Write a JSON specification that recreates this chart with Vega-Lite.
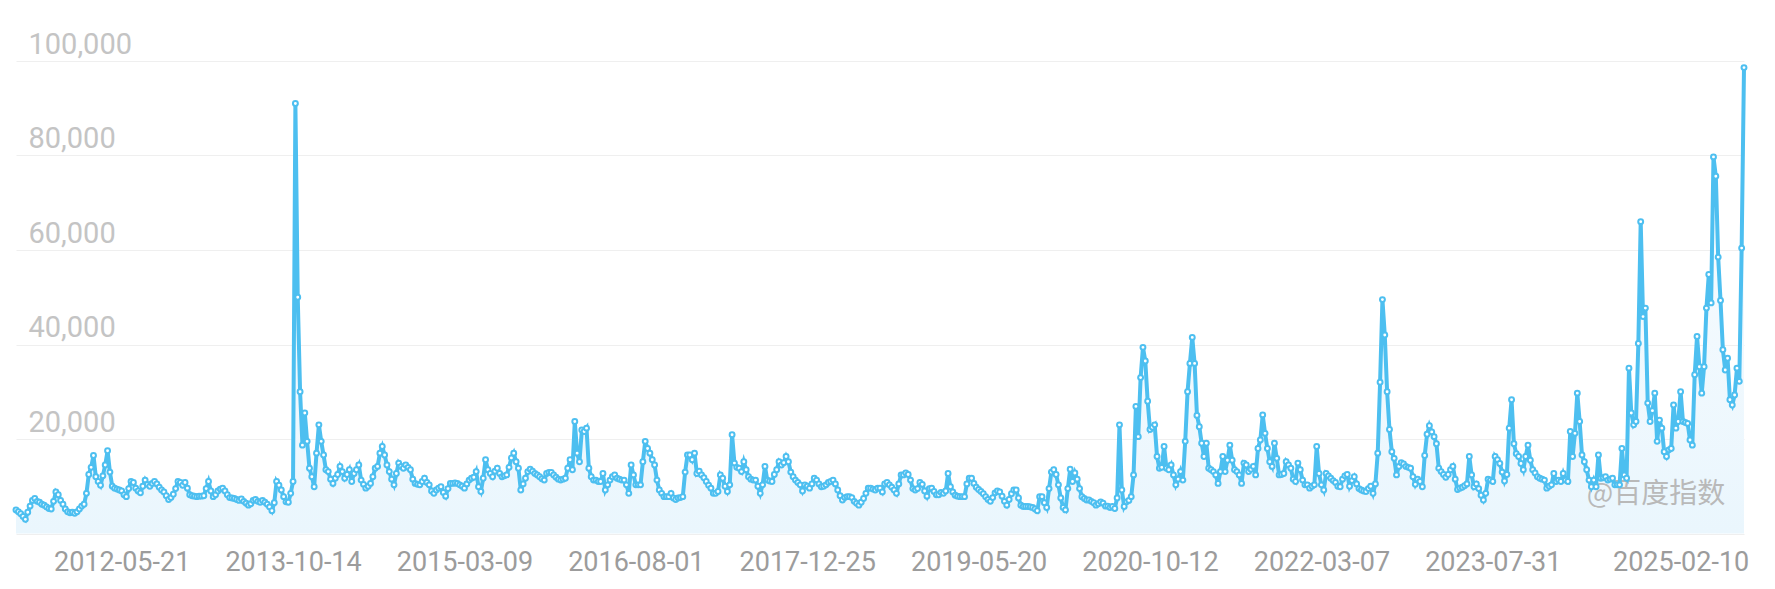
{
"$schema":"https://vega.github.io/schema/vega-lite/v6.json",
"width":1728,"height":472.5,
"autosize":{"type":"none"},
"padding":{"left":16,"top":61,"right":31,"bottom":55.5},
"background":"white",
"config":{"view":{"stroke":null}},
"datasets":{
"series":[
{"date":"2011-07-11","v":5000},{"date":"2011-07-18","v":4600},{"date":"2011-07-25","v":4200},
{"date":"2011-08-01","v":3600},{"date":"2011-08-08","v":3000},{"date":"2011-08-15","v":4500},{"date":"2011-08-22","v":5800},{"date":"2011-08-29","v":7000},
{"date":"2011-09-05","v":7400},{"date":"2011-09-12","v":6800},{"date":"2011-09-19","v":6600},{"date":"2011-09-26","v":6200},
{"date":"2011-10-03","v":6000},{"date":"2011-10-10","v":5600},{"date":"2011-10-17","v":5300},{"date":"2011-10-24","v":5200},{"date":"2011-10-31","v":6800},
{"date":"2011-11-07","v":8800},{"date":"2011-11-14","v":8200},{"date":"2011-11-21","v":7000},{"date":"2011-11-28","v":6200},
{"date":"2011-12-05","v":5200},{"date":"2011-12-12","v":4600},{"date":"2011-12-19","v":4400},{"date":"2011-12-26","v":4500},
{"date":"2012-01-02","v":4300},{"date":"2012-01-09","v":4600},{"date":"2012-01-16","v":5200},{"date":"2012-01-23","v":5800},{"date":"2012-01-30","v":6200},
{"date":"2012-02-06","v":8500},{"date":"2012-02-13","v":12500},{"date":"2012-02-20","v":14000},{"date":"2012-02-27","v":16500},
{"date":"2012-03-05","v":12000},{"date":"2012-03-12","v":11000},{"date":"2012-03-19","v":10200},{"date":"2012-03-26","v":12200},
{"date":"2012-04-02","v":14500},{"date":"2012-04-09","v":17500},{"date":"2012-04-16","v":13000},{"date":"2012-04-23","v":10000},{"date":"2012-04-30","v":9600},
{"date":"2012-05-07","v":9400},{"date":"2012-05-14","v":9200},{"date":"2012-05-21","v":9000},{"date":"2012-05-28","v":8200},
{"date":"2012-06-04","v":7800},{"date":"2012-06-11","v":9500},{"date":"2012-06-18","v":11000},{"date":"2012-06-25","v":10800},
{"date":"2012-07-02","v":9600},{"date":"2012-07-09","v":9000},{"date":"2012-07-16","v":8600},{"date":"2012-07-23","v":10000},{"date":"2012-07-30","v":11300},
{"date":"2012-08-06","v":10400},{"date":"2012-08-13","v":10000},{"date":"2012-08-20","v":10600},{"date":"2012-08-27","v":11000},
{"date":"2012-09-03","v":10500},{"date":"2012-09-10","v":9800},{"date":"2012-09-17","v":9200},{"date":"2012-09-24","v":8800},
{"date":"2012-10-01","v":8000},{"date":"2012-10-08","v":7200},{"date":"2012-10-15","v":7600},{"date":"2012-10-22","v":8300},{"date":"2012-10-29","v":9500},
{"date":"2012-11-05","v":11000},{"date":"2012-11-12","v":10800},{"date":"2012-11-19","v":10200},{"date":"2012-11-26","v":10800},
{"date":"2012-12-03","v":9600},{"date":"2012-12-10","v":8200},{"date":"2012-12-17","v":8000},{"date":"2012-12-24","v":7900},{"date":"2012-12-31","v":7800},
{"date":"2013-01-07","v":7900},{"date":"2013-01-14","v":7900},{"date":"2013-01-21","v":8000},{"date":"2013-01-28","v":9500},
{"date":"2013-02-04","v":11000},{"date":"2013-02-11","v":9000},{"date":"2013-02-18","v":7800},{"date":"2013-02-25","v":8200},
{"date":"2013-03-04","v":9000},{"date":"2013-03-11","v":9400},{"date":"2013-03-18","v":9600},{"date":"2013-03-25","v":9000},
{"date":"2013-04-01","v":8200},{"date":"2013-04-08","v":7600},{"date":"2013-04-15","v":7500},{"date":"2013-04-22","v":7400},{"date":"2013-04-29","v":7200},
{"date":"2013-05-06","v":7000},{"date":"2013-05-13","v":7300},{"date":"2013-05-20","v":6800},{"date":"2013-05-27","v":6400},
{"date":"2013-06-03","v":6000},{"date":"2013-06-10","v":6300},{"date":"2013-06-17","v":7000},{"date":"2013-06-24","v":7200},
{"date":"2013-07-01","v":6800},{"date":"2013-07-08","v":6600},{"date":"2013-07-15","v":7000},{"date":"2013-07-22","v":6600},{"date":"2013-07-29","v":6200},
{"date":"2013-08-05","v":5600},{"date":"2013-08-12","v":4800},{"date":"2013-08-19","v":6500},{"date":"2013-08-26","v":11000},
{"date":"2013-09-02","v":10200},{"date":"2013-09-09","v":9200},{"date":"2013-09-16","v":7800},{"date":"2013-09-23","v":6700},{"date":"2013-09-30","v":6600},
{"date":"2013-10-07","v":8500},{"date":"2013-10-14","v":11000},{"date":"2013-10-21","v":91000},{"date":"2013-10-28","v":50000},
{"date":"2013-11-04","v":30000},{"date":"2013-11-11","v":18700},{"date":"2013-11-18","v":25500},{"date":"2013-11-25","v":19500},
{"date":"2013-12-02","v":13800},{"date":"2013-12-09","v":12000},{"date":"2013-12-16","v":9900},{"date":"2013-12-23","v":17000},{"date":"2013-12-30","v":23000},
{"date":"2014-01-06","v":19500},{"date":"2014-01-13","v":16600},{"date":"2014-01-20","v":13500},{"date":"2014-01-27","v":13100},
{"date":"2014-02-03","v":11500},{"date":"2014-02-10","v":10600},{"date":"2014-02-17","v":11700},{"date":"2014-02-24","v":12500},
{"date":"2014-03-03","v":14200},{"date":"2014-03-10","v":13100},{"date":"2014-03-17","v":11700},{"date":"2014-03-24","v":12500},{"date":"2014-03-31","v":13500},
{"date":"2014-04-07","v":11000},{"date":"2014-04-14","v":12700},{"date":"2014-04-21","v":13500},{"date":"2014-04-28","v":14500},
{"date":"2014-05-05","v":11300},{"date":"2014-05-12","v":10400},{"date":"2014-05-19","v":9600},{"date":"2014-05-26","v":10000},
{"date":"2014-06-02","v":10600},{"date":"2014-06-09","v":12000},{"date":"2014-06-16","v":13800},{"date":"2014-06-23","v":14200},{"date":"2014-06-30","v":17000},
{"date":"2014-07-07","v":18400},{"date":"2014-07-14","v":16600},{"date":"2014-07-21","v":14500},{"date":"2014-07-28","v":13100},
{"date":"2014-08-04","v":11500},{"date":"2014-08-11","v":10300},{"date":"2014-08-18","v":12700},{"date":"2014-08-25","v":14900},
{"date":"2014-09-01","v":14200},{"date":"2014-09-08","v":13800},{"date":"2014-09-15","v":14500},{"date":"2014-09-22","v":14000},{"date":"2014-09-29","v":13500},
{"date":"2014-10-06","v":11500},{"date":"2014-10-13","v":10600},{"date":"2014-10-20","v":10400},{"date":"2014-10-27","v":10300},
{"date":"2014-11-03","v":11000},{"date":"2014-11-10","v":11700},{"date":"2014-11-17","v":10800},{"date":"2014-11-24","v":10300},
{"date":"2014-12-01","v":9000},{"date":"2014-12-08","v":8500},{"date":"2014-12-15","v":9200},{"date":"2014-12-22","v":9600},{"date":"2014-12-29","v":9900},
{"date":"2015-01-05","v":8700},{"date":"2015-01-12","v":7900},{"date":"2015-01-19","v":9500},{"date":"2015-01-26","v":10600},
{"date":"2015-02-02","v":10600},{"date":"2015-02-09","v":10700},{"date":"2015-02-16","v":10600},{"date":"2015-02-23","v":10300},
{"date":"2015-03-02","v":10000},{"date":"2015-03-09","v":9600},{"date":"2015-03-16","v":10500},{"date":"2015-03-23","v":11300},{"date":"2015-03-30","v":11700},
{"date":"2015-04-06","v":11900},{"date":"2015-04-13","v":13100},{"date":"2015-04-20","v":9900},{"date":"2015-04-27","v":8900},
{"date":"2015-05-04","v":11700},{"date":"2015-05-11","v":15600},{"date":"2015-05-18","v":13500},{"date":"2015-05-25","v":12700},
{"date":"2015-06-01","v":12000},{"date":"2015-06-08","v":13200},{"date":"2015-06-15","v":13800},{"date":"2015-06-22","v":12700},{"date":"2015-06-29","v":12000},
{"date":"2015-07-06","v":12200},{"date":"2015-07-13","v":12400},{"date":"2015-07-20","v":14000},{"date":"2015-07-27","v":16000},
{"date":"2015-08-03","v":17000},{"date":"2015-08-10","v":15200},{"date":"2015-08-17","v":13800},{"date":"2015-08-24","v":9200},{"date":"2015-08-31","v":10500},
{"date":"2015-09-07","v":11700},{"date":"2015-09-14","v":13100},{"date":"2015-09-21","v":13600},{"date":"2015-09-28","v":13200},
{"date":"2015-10-05","v":12700},{"date":"2015-10-12","v":12400},{"date":"2015-10-19","v":12000},{"date":"2015-10-26","v":11600},
{"date":"2015-11-02","v":11300},{"date":"2015-11-09","v":12700},{"date":"2015-11-16","v":12900},{"date":"2015-11-23","v":12900},{"date":"2015-11-30","v":12400},
{"date":"2015-12-07","v":11900},{"date":"2015-12-14","v":11500},{"date":"2015-12-21","v":11300},{"date":"2015-12-28","v":11500},
{"date":"2016-01-04","v":11700},{"date":"2016-01-11","v":13800},{"date":"2016-01-18","v":15600},{"date":"2016-01-25","v":13500},
{"date":"2016-02-01","v":23700},{"date":"2016-02-08","v":17000},{"date":"2016-02-15","v":15200},{"date":"2016-02-22","v":21900},{"date":"2016-02-29","v":21600},
{"date":"2016-03-07","v":22300},{"date":"2016-03-14","v":13800},{"date":"2016-03-21","v":12000},{"date":"2016-03-28","v":11300},
{"date":"2016-04-04","v":11300},{"date":"2016-04-11","v":11000},{"date":"2016-04-18","v":11000},{"date":"2016-04-25","v":12700},
{"date":"2016-05-02","v":9200},{"date":"2016-05-09","v":10300},{"date":"2016-05-16","v":11300},{"date":"2016-05-23","v":12000},{"date":"2016-05-30","v":12400},
{"date":"2016-06-06","v":11700},{"date":"2016-06-13","v":11500},{"date":"2016-06-20","v":11300},{"date":"2016-06-27","v":11300},
{"date":"2016-07-04","v":10300},{"date":"2016-07-11","v":8500},{"date":"2016-07-18","v":14500},{"date":"2016-07-25","v":12400},
{"date":"2016-08-01","v":10300},{"date":"2016-08-08","v":10300},{"date":"2016-08-15","v":10300},{"date":"2016-08-22","v":15200},{"date":"2016-08-29","v":19500},
{"date":"2016-09-05","v":18000},{"date":"2016-09-12","v":17000},{"date":"2016-09-19","v":15600},{"date":"2016-09-26","v":14500},
{"date":"2016-10-03","v":11300},{"date":"2016-10-10","v":9200},{"date":"2016-10-17","v":8500},{"date":"2016-10-24","v":7800},{"date":"2016-10-31","v":7800},
{"date":"2016-11-07","v":7800},{"date":"2016-11-14","v":8500},{"date":"2016-11-21","v":7500},{"date":"2016-11-28","v":7200},
{"date":"2016-12-05","v":7500},{"date":"2016-12-12","v":7600},{"date":"2016-12-19","v":7800},{"date":"2016-12-26","v":13000},
{"date":"2017-01-02","v":16600},{"date":"2017-01-09","v":16600},{"date":"2017-01-16","v":15600},{"date":"2017-01-23","v":17000},{"date":"2017-01-30","v":12700},
{"date":"2017-02-06","v":13200},{"date":"2017-02-13","v":12400},{"date":"2017-02-20","v":11800},{"date":"2017-02-27","v":11000},
{"date":"2017-03-06","v":10200},{"date":"2017-03-13","v":9600},{"date":"2017-03-20","v":8500},{"date":"2017-03-27","v":8500},
{"date":"2017-04-03","v":8900},{"date":"2017-04-10","v":12400},{"date":"2017-04-17","v":11700},{"date":"2017-04-24","v":10000},
{"date":"2017-05-01","v":8900},{"date":"2017-05-08","v":10300},{"date":"2017-05-15","v":20900},{"date":"2017-05-22","v":14900},{"date":"2017-05-29","v":14000},
{"date":"2017-06-05","v":13800},{"date":"2017-06-12","v":13100},{"date":"2017-06-19","v":15200},{"date":"2017-06-26","v":13500},
{"date":"2017-07-03","v":12000},{"date":"2017-07-10","v":11500},{"date":"2017-07-17","v":11300},{"date":"2017-07-24","v":11300},{"date":"2017-07-31","v":10000},
{"date":"2017-08-07","v":8500},{"date":"2017-08-14","v":10300},{"date":"2017-08-21","v":14200},{"date":"2017-08-28","v":11300},
{"date":"2017-09-04","v":11100},{"date":"2017-09-11","v":11000},{"date":"2017-09-18","v":12500},{"date":"2017-09-25","v":13500},
{"date":"2017-10-02","v":15200},{"date":"2017-10-09","v":14500},{"date":"2017-10-16","v":15000},{"date":"2017-10-23","v":16300},{"date":"2017-10-30","v":15200},
{"date":"2017-11-06","v":13000},{"date":"2017-11-13","v":12000},{"date":"2017-11-20","v":11300},{"date":"2017-11-27","v":10800},
{"date":"2017-12-04","v":10300},{"date":"2017-12-11","v":9000},{"date":"2017-12-18","v":10300},{"date":"2017-12-25","v":10000},
{"date":"2018-01-01","v":9600},{"date":"2018-01-08","v":10500},{"date":"2018-01-15","v":11700},{"date":"2018-01-22","v":11300},{"date":"2018-01-29","v":10500},
{"date":"2018-02-05","v":9900},{"date":"2018-02-12","v":10000},{"date":"2018-02-19","v":10300},{"date":"2018-02-26","v":10800},
{"date":"2018-03-05","v":11000},{"date":"2018-03-12","v":11300},{"date":"2018-03-19","v":10500},{"date":"2018-03-26","v":9200},
{"date":"2018-04-02","v":8000},{"date":"2018-04-09","v":7100},{"date":"2018-04-16","v":7600},{"date":"2018-04-23","v":7800},{"date":"2018-04-30","v":7800},
{"date":"2018-05-07","v":7600},{"date":"2018-05-14","v":6800},{"date":"2018-05-21","v":6400},{"date":"2018-05-28","v":6000},
{"date":"2018-06-04","v":6600},{"date":"2018-06-11","v":7400},{"date":"2018-06-18","v":8500},{"date":"2018-06-25","v":9600},
{"date":"2018-07-02","v":9600},{"date":"2018-07-09","v":9400},{"date":"2018-07-16","v":9200},{"date":"2018-07-23","v":9600},{"date":"2018-07-30","v":9600},
{"date":"2018-08-06","v":8800},{"date":"2018-08-13","v":10500},{"date":"2018-08-20","v":10800},{"date":"2018-08-27","v":10300},
{"date":"2018-09-03","v":9800},{"date":"2018-09-10","v":9200},{"date":"2018-09-17","v":8500},{"date":"2018-09-24","v":10500},
{"date":"2018-10-01","v":12400},{"date":"2018-10-08","v":12400},{"date":"2018-10-15","v":12800},{"date":"2018-10-22","v":12500},{"date":"2018-10-29","v":11300},
{"date":"2018-11-05","v":9500},{"date":"2018-11-12","v":9200},{"date":"2018-11-19","v":9500},{"date":"2018-11-26","v":10800},
{"date":"2018-12-03","v":10400},{"date":"2018-12-10","v":9000},{"date":"2018-12-17","v":7900},{"date":"2018-12-24","v":9500},{"date":"2018-12-31","v":9600},
{"date":"2019-01-07","v":8900},{"date":"2019-01-14","v":8200},{"date":"2019-01-21","v":8200},{"date":"2019-01-28","v":8700},
{"date":"2019-02-04","v":8500},{"date":"2019-02-11","v":9000},{"date":"2019-02-18","v":12700},{"date":"2019-02-25","v":9900},
{"date":"2019-03-04","v":8800},{"date":"2019-03-11","v":8100},{"date":"2019-03-18","v":7900},{"date":"2019-03-25","v":7800},
{"date":"2019-04-01","v":7800},{"date":"2019-04-08","v":7800},{"date":"2019-04-15","v":10500},{"date":"2019-04-22","v":11700},{"date":"2019-04-29","v":11700},
{"date":"2019-05-06","v":10600},{"date":"2019-05-13","v":9800},{"date":"2019-05-20","v":9300},{"date":"2019-05-27","v":8900},
{"date":"2019-06-03","v":8400},{"date":"2019-06-10","v":7800},{"date":"2019-06-17","v":7200},{"date":"2019-06-24","v":6800},
{"date":"2019-07-01","v":7600},{"date":"2019-07-08","v":8600},{"date":"2019-07-15","v":9000},{"date":"2019-07-22","v":8800},{"date":"2019-07-29","v":7900},
{"date":"2019-08-05","v":6800},{"date":"2019-08-12","v":6000},{"date":"2019-08-19","v":7200},{"date":"2019-08-26","v":8400},
{"date":"2019-09-02","v":9200},{"date":"2019-09-09","v":9200},{"date":"2019-09-16","v":7500},{"date":"2019-09-23","v":6000},{"date":"2019-09-30","v":5700},
{"date":"2019-10-07","v":5700},{"date":"2019-10-14","v":5700},{"date":"2019-10-21","v":5600},{"date":"2019-10-28","v":5500},
{"date":"2019-11-04","v":5200},{"date":"2019-11-11","v":4800},{"date":"2019-11-18","v":7800},{"date":"2019-11-25","v":7800},
{"date":"2019-12-02","v":6500},{"date":"2019-12-09","v":5500},{"date":"2019-12-16","v":9500},{"date":"2019-12-23","v":13000},{"date":"2019-12-30","v":13500},
{"date":"2020-01-06","v":12500},{"date":"2020-01-13","v":10300},{"date":"2020-01-20","v":7500},{"date":"2020-01-27","v":5500},
{"date":"2020-02-03","v":5000},{"date":"2020-02-10","v":9500},{"date":"2020-02-17","v":13600},{"date":"2020-02-24","v":11000},
{"date":"2020-03-02","v":12800},{"date":"2020-03-09","v":11500},{"date":"2020-03-16","v":9500},{"date":"2020-03-23","v":7800},{"date":"2020-03-30","v":7400},
{"date":"2020-04-06","v":7100},{"date":"2020-04-13","v":7100},{"date":"2020-04-20","v":6800},{"date":"2020-04-27","v":6500},
{"date":"2020-05-04","v":6000},{"date":"2020-05-11","v":6300},{"date":"2020-05-18","v":6700},{"date":"2020-05-25","v":6400},
{"date":"2020-06-01","v":5800},{"date":"2020-06-08","v":5800},{"date":"2020-06-15","v":5500},{"date":"2020-06-22","v":5700},{"date":"2020-06-29","v":5300},
{"date":"2020-07-06","v":7500},{"date":"2020-07-13","v":23000},{"date":"2020-07-20","v":9200},{"date":"2020-07-27","v":5700},
{"date":"2020-08-03","v":6700},{"date":"2020-08-10","v":7000},{"date":"2020-08-17","v":7800},{"date":"2020-08-24","v":12400},{"date":"2020-08-31","v":26900},
{"date":"2020-09-07","v":20500},{"date":"2020-09-14","v":33000},{"date":"2020-09-21","v":39400},{"date":"2020-09-28","v":36500},
{"date":"2020-10-05","v":28000},{"date":"2020-10-12","v":22000},{"date":"2020-10-19","v":22500},{"date":"2020-10-26","v":23000},
{"date":"2020-11-02","v":16300},{"date":"2020-11-09","v":13800},{"date":"2020-11-16","v":14000},{"date":"2020-11-23","v":18400},{"date":"2020-11-30","v":13800},
{"date":"2020-12-07","v":13500},{"date":"2020-12-14","v":14500},{"date":"2020-12-21","v":12400},{"date":"2020-12-28","v":10300},
{"date":"2021-01-04","v":11500},{"date":"2021-01-11","v":13100},{"date":"2021-01-18","v":11300},{"date":"2021-01-25","v":19500},
{"date":"2021-02-01","v":30000},{"date":"2021-02-08","v":36000},{"date":"2021-02-15","v":41500},{"date":"2021-02-22","v":36000},
{"date":"2021-03-01","v":25000},{"date":"2021-03-08","v":22600},{"date":"2021-03-15","v":19100},{"date":"2021-03-22","v":16300},{"date":"2021-03-29","v":19100},
{"date":"2021-04-05","v":13800},{"date":"2021-04-12","v":13500},{"date":"2021-04-19","v":13100},{"date":"2021-04-26","v":12400},
{"date":"2021-05-03","v":10600},{"date":"2021-05-10","v":13100},{"date":"2021-05-17","v":16300},{"date":"2021-05-24","v":13100},{"date":"2021-05-31","v":15500},
{"date":"2021-06-07","v":18700},{"date":"2021-06-14","v":15500},{"date":"2021-06-21","v":13500},{"date":"2021-06-28","v":13100},
{"date":"2021-07-05","v":12400},{"date":"2021-07-12","v":10600},{"date":"2021-07-19","v":14900},{"date":"2021-07-26","v":14500},
{"date":"2021-08-02","v":13100},{"date":"2021-08-09","v":13600},{"date":"2021-08-16","v":14200},{"date":"2021-08-23","v":12400},{"date":"2021-08-30","v":18000},
{"date":"2021-09-06","v":19800},{"date":"2021-09-13","v":25100},{"date":"2021-09-20","v":21200},{"date":"2021-09-27","v":18000},
{"date":"2021-10-04","v":15200},{"date":"2021-10-11","v":14200},{"date":"2021-10-18","v":19100},{"date":"2021-10-25","v":15900},
{"date":"2021-11-01","v":12400},{"date":"2021-11-08","v":12500},{"date":"2021-11-15","v":12700},{"date":"2021-11-22","v":15200},{"date":"2021-11-29","v":14500},
{"date":"2021-12-06","v":13800},{"date":"2021-12-13","v":11500},{"date":"2021-12-20","v":11000},{"date":"2021-12-27","v":14900},
{"date":"2022-01-03","v":13500},{"date":"2022-01-10","v":11300},{"date":"2022-01-17","v":10300},{"date":"2022-01-24","v":10300},{"date":"2022-01-31","v":9600},
{"date":"2022-02-07","v":10000},{"date":"2022-02-14","v":10300},{"date":"2022-02-21","v":18400},{"date":"2022-02-28","v":12700},
{"date":"2022-03-07","v":10300},{"date":"2022-03-14","v":9200},{"date":"2022-03-21","v":12700},{"date":"2022-03-28","v":12200},
{"date":"2022-04-04","v":11700},{"date":"2022-04-11","v":11200},{"date":"2022-04-18","v":10800},{"date":"2022-04-25","v":10000},
{"date":"2022-05-02","v":9900},{"date":"2022-05-09","v":11500},{"date":"2022-05-16","v":12200},{"date":"2022-05-23","v":12500},{"date":"2022-05-30","v":10000},
{"date":"2022-06-06","v":11200},{"date":"2022-06-13","v":12000},{"date":"2022-06-20","v":10500},{"date":"2022-06-27","v":9500},
{"date":"2022-07-04","v":9200},{"date":"2022-07-11","v":9000},{"date":"2022-07-18","v":8900},{"date":"2022-07-25","v":9500},
{"date":"2022-08-01","v":10000},{"date":"2022-08-08","v":8500},{"date":"2022-08-15","v":10500},{"date":"2022-08-22","v":17000},{"date":"2022-08-29","v":32000},
{"date":"2022-09-05","v":49500},{"date":"2022-09-12","v":42000},{"date":"2022-09-19","v":30000},{"date":"2022-09-26","v":22000},
{"date":"2022-10-03","v":17300},{"date":"2022-10-10","v":15900},{"date":"2022-10-17","v":12400},{"date":"2022-10-24","v":14200},{"date":"2022-10-31","v":15000},
{"date":"2022-11-07","v":14700},{"date":"2022-11-14","v":14200},{"date":"2022-11-21","v":14000},{"date":"2022-11-28","v":13800},
{"date":"2022-12-05","v":12000},{"date":"2022-12-12","v":10400},{"date":"2022-12-19","v":11500},{"date":"2022-12-26","v":11000},
{"date":"2023-01-02","v":9900},{"date":"2023-01-09","v":16500},{"date":"2023-01-16","v":21000},{"date":"2023-01-23","v":22800},{"date":"2023-01-30","v":21500},
{"date":"2023-02-06","v":20500},{"date":"2023-02-13","v":19000},{"date":"2023-02-20","v":13800},{"date":"2023-02-27","v":13100},
{"date":"2023-03-06","v":12500},{"date":"2023-03-13","v":11900},{"date":"2023-03-20","v":12500},{"date":"2023-03-27","v":13500},
{"date":"2023-04-03","v":14200},{"date":"2023-04-10","v":11500},{"date":"2023-04-17","v":9300},{"date":"2023-04-24","v":9600},
{"date":"2023-05-01","v":9800},{"date":"2023-05-08","v":10100},{"date":"2023-05-15","v":10500},{"date":"2023-05-22","v":16300},{"date":"2023-05-29","v":12400},
{"date":"2023-06-05","v":9900},{"date":"2023-06-12","v":10500},{"date":"2023-06-19","v":9500},{"date":"2023-06-26","v":8100},
{"date":"2023-07-03","v":7100},{"date":"2023-07-10","v":8500},{"date":"2023-07-17","v":11500},{"date":"2023-07-24","v":11300},{"date":"2023-07-31","v":11000},
{"date":"2023-08-07","v":16300},{"date":"2023-08-14","v":15600},{"date":"2023-08-21","v":14800},{"date":"2023-08-28","v":13000},
{"date":"2023-09-04","v":11100},{"date":"2023-09-11","v":12500},{"date":"2023-09-18","v":22300},{"date":"2023-09-25","v":28300},
{"date":"2023-10-02","v":19000},{"date":"2023-10-09","v":16900},{"date":"2023-10-16","v":16300},{"date":"2023-10-23","v":14800},{"date":"2023-10-30","v":13500},
{"date":"2023-11-06","v":16300},{"date":"2023-11-13","v":18700},{"date":"2023-11-20","v":15500},{"date":"2023-11-27","v":13500},
{"date":"2023-12-04","v":12800},{"date":"2023-12-11","v":12000},{"date":"2023-12-18","v":11700},{"date":"2023-12-25","v":11500},
{"date":"2024-01-01","v":11300},{"date":"2024-01-08","v":9600},{"date":"2024-01-15","v":10000},{"date":"2024-01-22","v":10300},{"date":"2024-01-29","v":12700},
{"date":"2024-02-05","v":11000},{"date":"2024-02-12","v":11300},{"date":"2024-02-19","v":11000},{"date":"2024-02-26","v":12700},
{"date":"2024-03-04","v":11300},{"date":"2024-03-11","v":11000},{"date":"2024-03-18","v":21600},{"date":"2024-03-25","v":16300},
{"date":"2024-04-01","v":21200},{"date":"2024-04-08","v":29700},{"date":"2024-04-15","v":23700},{"date":"2024-04-22","v":16600},{"date":"2024-04-29","v":15200},
{"date":"2024-05-06","v":13500},{"date":"2024-05-13","v":11300},{"date":"2024-05-20","v":9900},{"date":"2024-05-27","v":11300},
{"date":"2024-06-03","v":9900},{"date":"2024-06-10","v":16600},{"date":"2024-06-17","v":11700},{"date":"2024-06-24","v":11800},
{"date":"2024-07-01","v":12000},{"date":"2024-07-08","v":11300},{"date":"2024-07-15","v":11500},{"date":"2024-07-22","v":11700},{"date":"2024-07-29","v":10300},
{"date":"2024-08-05","v":10300},{"date":"2024-08-12","v":10300},{"date":"2024-08-19","v":18000},{"date":"2024-08-26","v":12400},
{"date":"2024-09-02","v":11700},{"date":"2024-09-09","v":35000},{"date":"2024-09-16","v":25500},{"date":"2024-09-23","v":23000},{"date":"2024-09-30","v":23700},
{"date":"2024-10-07","v":40200},{"date":"2024-10-14","v":66000},{"date":"2024-10-21","v":45900},{"date":"2024-10-28","v":47700},
{"date":"2024-11-04","v":27600},{"date":"2024-11-11","v":23700},{"date":"2024-11-18","v":26000},{"date":"2024-11-25","v":29700},
{"date":"2024-12-02","v":19500},{"date":"2024-12-09","v":24000},{"date":"2024-12-16","v":22300},{"date":"2024-12-23","v":17300},{"date":"2024-12-30","v":16300},
{"date":"2025-01-06","v":17700},{"date":"2025-01-13","v":18000},{"date":"2025-01-20","v":27200},{"date":"2025-01-27","v":22300},
{"date":"2025-02-03","v":23700},{"date":"2025-02-10","v":30000},{"date":"2025-02-17","v":23700},{"date":"2025-02-24","v":23500},
{"date":"2025-03-03","v":23300},{"date":"2025-03-10","v":19800},{"date":"2025-03-17","v":18700},{"date":"2025-03-24","v":33600},{"date":"2025-03-31","v":41700},
{"date":"2025-04-07","v":35300},{"date":"2025-04-14","v":29700},{"date":"2025-04-21","v":35300},{"date":"2025-04-28","v":47700},
{"date":"2025-05-05","v":54800},{"date":"2025-05-12","v":48800},{"date":"2025-05-19","v":79700},{"date":"2025-05-26","v":75600},
{"date":"2025-06-02","v":58500},{"date":"2025-06-09","v":49300},{"date":"2025-06-16","v":38900},{"date":"2025-06-23","v":34600},{"date":"2025-06-30","v":37100},
{"date":"2025-07-07","v":28300},{"date":"2025-07-14","v":27200},{"date":"2025-07-21","v":29300},{"date":"2025-07-28","v":35000},
{"date":"2025-08-04","v":32200},{"date":"2025-08-11","v":60400},{"date":"2025-08-18","v":98600}
],
"mark":[{"date":"2025-06-23","v":8200,"t":"@百度指数"}]
},
"encoding":{
  "x":{"field":"date","type":"temporal","scale":{"type":"utc"},
   "axis":{"values":[{"year":2012,"month":5,"date":21,"utc":true},{"year":2013,"month":10,"date":14,"utc":true},{"year":2015,"month":3,"date":9,"utc":true},{"year":2016,"month":8,"date":1,"utc":true},{"year":2017,"month":12,"date":25,"utc":true},{"year":2019,"month":5,"date":20,"utc":true},{"year":2020,"month":10,"date":12,"utc":true},{"year":2022,"month":3,"date":7,"utc":true},{"year":2023,"month":7,"date":31,"utc":true},{"year":2025,"month":2,"date":10,"utc":true}],
    "labelExpr":"utcFormat(datum.value, '%Y-%m-%d')","title":null,"domain":false,"ticks":false,"grid":false,
    "labelFont":"Roboto","labelFontSize":27,"labelColor":"#9c9c9c","labelPadding":16,"labelOverlap":false,"labelFlush":false}},
  "y":{"field":"v","type":"quantitative","scale":{"domain":[0,100000],"nice":false,"zero":true},
   "axis":{"values":[0,20000,40000,60000,80000,100000],"labelExpr":"datum.value == 0 ? '' : format(datum.value, ',')","title":null,"domain":false,"ticks":false,
    "grid":true,"gridColor":"#efefef","gridWidth":1,
    "labelAlign":"left","labelPadding":-12,"labelBaseline":"alphabetic","labelOffset":-8,
    "labelFont":"Roboto","labelFontSize":29,"labelColor":"#c4c4c4"}}
},
"layer":[
{"data":{"name":"series"},
 "mark":{"type":"area","interpolate":"linear","color":{"gradient":"linear","x1":0,"y1":1,"x2":0,"y2":0,"stops":[{"offset":0,"color":"#eaf6fd"},{"offset":1,"color":"#fbfdff"}]}}},
{"data":{"name":"mark"},
 "mark":{"type":"text","align":"right","baseline":"middle","font":"Noto Sans CJK SC","fontSize":28,"color":"#b9b9b9"},
 "encoding":{"text":{"field":"t"}}},
{"data":{"name":"series"},
 "mark":{"type":"line","interpolate":"linear","color":"#4dbff0","strokeWidth":4,
   "point":{"filled":false,"fill":"white","stroke":"#4dbff0","size":24,"strokeWidth":2}}}
]
}
